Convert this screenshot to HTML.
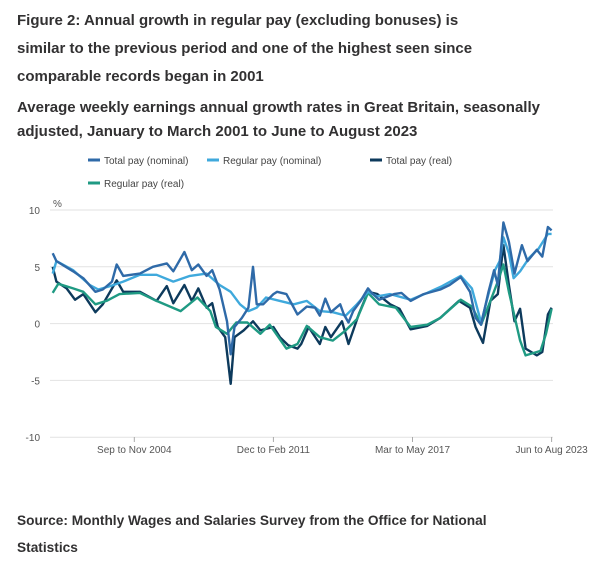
<!DOCTYPE html>
<html><head><meta charset="utf-8"><style>
body{margin:0;width:600px;height:561px;background:#fff;font-family:"Liberation Sans",sans-serif;color:#323132;overflow:hidden;position:relative}
.t{position:absolute;left:17px;font-weight:bold;white-space:nowrap}
</style></head><body>
<div class="t" style="top:7px;font-size:15px;line-height:28px">Figure 2: Annual growth in regular pay (excluding bonuses) is<br>similar to the previous period and one of the highest seen since<br>comparable records began in 2001</div>
<div class="t" style="top:96px;font-size:15px;line-height:24px">Average weekly earnings annual growth rates in Great Britain, seasonally<br>adjusted, January to March 2001 to June to August 2023</div>
<svg id="c" width="600" height="480" style="position:absolute;left:0;top:0" font-family="Liberation Sans, sans-serif"></svg>
<div class="t" style="top:507px;font-size:13.7px;line-height:27px">Source: Monthly Wages and Salaries Survey from the Office for National<br>Statistics</div>
<script>
const seriesNames=["Total pay (nominal)","Regular pay (nominal)","Total pay (real)","Regular pay (real)"];
const colors=["#2f6aa8","#3fa9dc","#0d3a5c","#1f9a83"];
const yTicks=[10,5,0,-5,-10];
const xTickLabels=["Sep to Nov 2004","Dec to Feb 2011","Mar to May 2017","Jun to Aug 2023"];
const xTickMonths=[44,119,194,269];
const m0=[0,2,11,16.5,23,27,32,34.5,38,47,54,61.5,65,71,75,78.5,83,86,90,94,96,98,102,105.5,108,110,113.5,119,121,126,132,137,141.5,144,147,150,155,157,159.5,162,166,170,172,176,184,188,193,200,209,214,220,225,228,231,235,238,240,243,246,249,253,256,261,264,267,269];
const v0=[6.2,5.5,4.6,4.0,2.8,3.0,3.7,5.2,4.2,4.4,5.0,5.3,4.6,6.3,4.7,5.2,4.2,4.7,3.0,0.2,-2.7,-0.3,0.5,1.4,5.0,1.7,1.7,2.6,2.8,2.6,0.8,1.5,1.4,0.7,2.2,1.0,1.7,0.8,0.1,1.1,2.0,3.1,2.7,2.1,2.6,2.7,2.0,2.6,3.0,3.4,4.1,2.8,0.5,-0.1,2.8,4.7,3.4,8.9,7.2,4.4,6.9,5.5,6.5,5.9,8.5,8.2];
const m1=[0,2,11,20,24.6,31,38,47,56,65,74,83,90,96,101,105.5,110,115,122.5,130,137,144,151,158,164,170,175,182,193,202,210,220,226,231,235,238.5,241,243,246,248.5,252,257,262,267,269];
const v1=[4.4,5.5,4.7,3.4,3.0,3.3,3.7,4.3,4.3,3.7,4.2,4.4,3.4,2.8,1.7,1.1,1.4,2.3,2.0,1.7,2.0,1.1,1.0,0.7,1.7,2.8,2.4,2.6,2.1,2.7,3.3,4.2,3.1,0.1,2.6,4.7,5.5,7.6,6.2,4.0,4.6,5.8,6.6,7.9,7.9];
const m2=[0,2,7.5,12,16.5,23,27,34.5,38,47,56,61.5,65,71,75,78.5,83,86,89,93,96,98,103,108,112,119,122.5,127,132,134,138,144,147,150,156,159.5,165,170,175,182,187,193,202,209,219,225,228,232,236,240,243,246,249,252,255,261,264,267,269];
const v2=[5.0,3.7,3.1,2.1,2.6,1.0,1.7,3.8,2.8,2.8,2.0,3.3,1.8,3.4,2.0,3.1,1.4,1.8,-0.3,-1.2,-5.3,-1.2,-0.6,0.2,-0.6,-0.3,-1.2,-1.9,-2.2,-1.8,-0.3,-1.8,-0.3,-1.2,0.2,-1.8,0.8,2.8,2.6,1.7,1.3,-0.5,-0.2,0.5,2.0,1.4,-0.3,-1.7,2.0,2.6,6.9,3.4,0.2,1.3,-2.2,-2.8,-2.5,0.8,1.4];
const m3=[0,3,11,16.5,23,29,36,47,56,69,78,85,88,94,99,105,112,117,126,132,137,144,151,158,164,170,176,185,193,202,209,220,226,231,236,240,243,246,252,255,263,266,269];
const v3=[2.7,3.5,3.1,2.8,1.7,2.0,2.6,2.7,2.0,1.1,2.3,1.1,-0.3,-0.9,0.1,0.1,-0.9,-0.1,-2.2,-1.8,-0.2,-1.2,-1.5,-0.6,0.4,2.7,1.7,1.4,-0.3,-0.1,0.5,2.1,1.5,-0.1,2.0,3.7,5.2,2.8,-1.5,-2.8,-2.4,-0.9,1.3];
const months=[m0,m1,m2,m3], vals=[v0,v1,v2,v3];
const X=m=>52.7+m*(551.6-52.7)/269;
const Y=v=>323.6-v*11.36;
const svg=document.getElementById('c');const NS='http://www.w3.org/2000/svg';
function mk(t,a,p){const e=document.createElementNS(NS,t);for(const k in a)e.setAttribute(k,a[k]);(p||svg).appendChild(e);return e;}
yTicks.forEach(t=>{
  const l=mk('line',{x1:50,x2:553,y1:Y(t),y2:Y(t),stroke:'#e2e2e2','stroke-width':1});
  
  
  const tx=mk('text',{x:40,y:Y(t)+4,'text-anchor':'end','font-size':10,fill:'#555'});tx.textContent=t;
  
  
});
const pc=mk('text',{x:53,y:207,'font-size':10,fill:'#555'});pc.textContent='%';


xTickMonths.forEach((m,i)=>{
  const tk=mk('line',{x1:X(m),x2:X(m),y1:437,y2:442,stroke:'#aaa'});
  
  
  const tx=mk('text',{x:X(m),y:453,'text-anchor':'middle','font-size':10,fill:'#555'});tx.textContent=xTickLabels[i];
  
  
});
[2,3,1,0].forEach(s=>{
  const d=months[s].map((m,i)=>(i?'L':'M')+X(m).toFixed(1)+' '+Y(vals[s][i]).toFixed(1)).join(' ');
  const p=mk('path',{d:d,fill:'none',stroke:colors[s],'stroke-width':2.4,'stroke-linejoin':'round'});
  
  
});
const leg=[[88,160],[207,160],[370,160],[88,183]];
seriesNames.forEach((n,i)=>{
  const g=mk('g',{});
  
  
  mk('line',{x1:leg[i][0],x2:leg[i][0]+12,y1:leg[i][1],y2:leg[i][1],stroke:colors[i],'stroke-width':3},g);
  const t=mk('text',{x:leg[i][0]+16,y:leg[i][1]+4,'font-size':10,fill:'#444'},g);t.textContent=n;
});
</script>
</body></html>
